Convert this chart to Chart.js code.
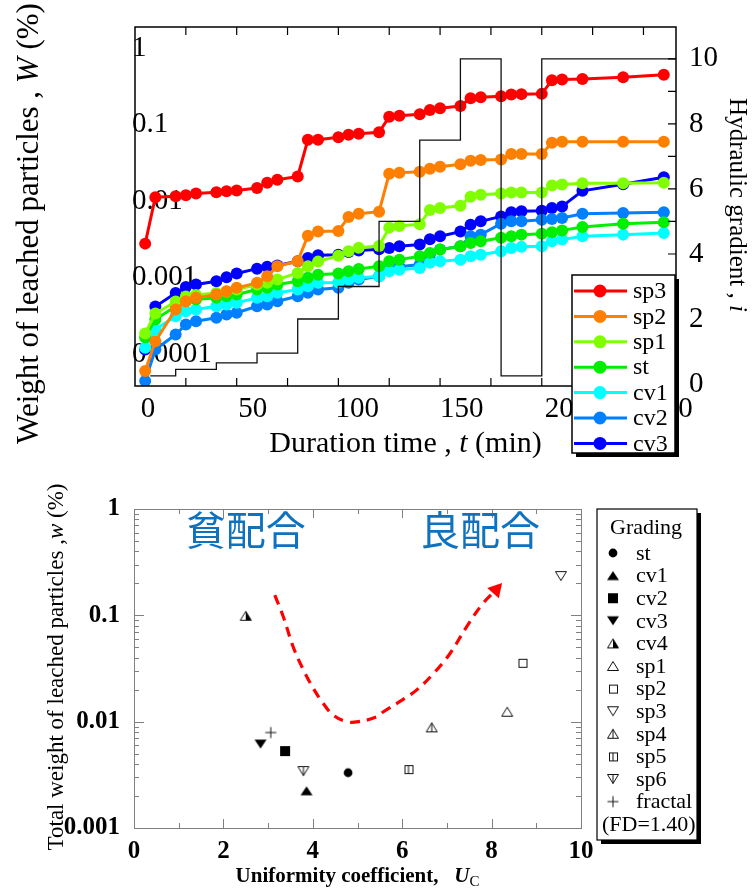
<!DOCTYPE html>
<html>
<head>
<meta charset="utf-8">
<title>leached particles</title>
<script src="https://cdn.jsdelivr.net/npm/chart.js@4.4.1/dist/chart.umd.min.js"></script>
<style>
    body { margin: 0; background: #fff; }
    .fig { position: relative; width: 754px; height: 889px; overflow: hidden; }
    #chart_time { position: absolute; left: 0; top: 0; }
    #chart_uc { position: absolute; left: 0; top: 462px; }
</style>
</head>
<body>
<div class="fig">
    <canvas id="chart_time" width="754" height="462"></canvas>
    <canvas id="chart_uc" width="754" height="427"></canvas>
</div>
<script>
// ---------- top chart : W vs duration time ----------
var time_min = [5, 10, 20, 25, 30, 40, 45, 50, 60, 65, 70, 80, 85, 90, 100, 105, 110, 120, 125, 130,
    140, 145, 150, 160, 165, 170, 180, 185, 190, 200, 205, 210, 220, 240, 260];

var sp3 = [0.0028, 0.0113, 0.0116, 0.0120, 0.0126, 0.0131, 0.0135, 0.0138, 0.0149, 0.0175, 0.0191, 0.0211,
    0.0635, 0.0635, 0.0685, 0.0738, 0.0761, 0.0796, 0.127, 0.131, 0.137, 0.156, 0.164, 0.176, 0.222, 0.229,
    0.235, 0.248, 0.251, 0.253, 0.382, 0.391, 0.397, 0.417, 0.451];
var sp2 = [0.0000606, 0.000149, 0.000386, 0.000495, 0.000548, 0.000606, 0.000669, 0.000741, 0.000861, 0.00105,
    0.00142, 0.00165, 0.00356, 0.00402, 0.00408, 0.00624, 0.00689, 0.00732, 0.0229, 0.0236, 0.0243, 0.0266,
    0.0283, 0.0305, 0.0338, 0.0346, 0.0352, 0.0415, 0.0415, 0.0415, 0.0581, 0.0598, 0.0598, 0.0598, 0.0598];
var sp1 = [0.000188, 0.000342, 0.000491, 0.000571, 0.000597, 0.000633, 0.000663, 0.000704, 0.000818, 0.000861,
    0.00095, 0.00116, 0.00142, 0.00163, 0.00195, 0.00222, 0.00248, 0.0026, 0.00453, 0.00476, 0.00503, 0.0077,
    0.00818, 0.00876, 0.0115, 0.0122, 0.0126, 0.013, 0.013, 0.013, 0.0161, 0.0166, 0.0172, 0.0172, 0.0175];
var st = [0.000167, 0.000286, 0.000426, 0.000495, 0.000521, 0.000548, 0.000576, 0.000606, 0.000704, 0.000741,
    0.000818, 0.000903, 0.001, 0.0011, 0.00114, 0.00122, 0.00131, 0.00142, 0.00165, 0.00173, 0.00191, 0.00212,
    0.00234, 0.00258, 0.00286, 0.003, 0.00335, 0.00349, 0.00367, 0.00378, 0.00393, 0.00417, 0.00462, 0.0051, 0.00531];
var cv1 = [0.000122, 0.000212, 0.000316, 0.000367, 0.000386, 0.000426, 0.000449, 0.000472, 0.000548, 0.000576,
    0.000637, 0.000704, 0.000777, 0.000861, 0.000869, 0.00095, 0.001, 0.00105, 0.00122, 0.00128, 0.00135, 0.00157,
    0.00165, 0.00173, 0.00191, 0.00201, 0.00222, 0.00246, 0.00254, 0.00258, 0.003, 0.00316, 0.00349, 0.00367, 0.00386];
var cv2 = [0.0000449, 0.000116, 0.000182, 0.000246, 0.000272, 0.000301, 0.000332, 0.00035, 0.000426, 0.000449,
    0.000495, 0.000576, 0.000637, 0.000704, 0.000741, 0.000861, 0.00095, 0.00105, 0.00128, 0.0014, 0.00149, 0.00201,
    0.00234, 0.00258, 0.00349, 0.00367, 0.0051, 0.00547, 0.00547, 0.00575, 0.00588, 0.00606, 0.00689, 0.00704, 0.00717];
var cv3 = [0.000116, 0.000422, 0.000633, 0.000759, 0.000818, 0.000903, 0.00102, 0.00114, 0.00132, 0.0014,
    0.00145, 0.00165, 0.00182, 0.00198, 0.00201, 0.00217, 0.00227, 0.00237, 0.00246, 0.00258, 0.00272, 0.00319,
    0.00349, 0.00402, 0.00495, 0.00547, 0.00635, 0.00721, 0.00743, 0.00754, 0.00818, 0.00858, 0.0137, 0.0167, 0.0206];

var series_names = ['sp3', 'sp2', 'sp1', 'st', 'cv1', 'cv2', 'cv3'];
var series_values = [sp3, sp2, sp1, st, cv1, cv2, cv3];
var series_colors = ['#ff0000', '#ff8000', '#80ff00', '#00ee00', '#00ffff', '#0080ff', '#0000ff'];

// hydraulic gradient steps
var step_time = [7.5, 20, 40, 60, 80, 100, 120, 140, 160, 180, 200, 266];
var step_gradient = [0.25, 0.45, 0.65, 0.95, 2, 3, 5, 7.5, 10, 0.25, 10, 10];

var time_tick_labels = [0, 50, 100, 150, 200, 250];
var w_ticks = [0.0001, 0.001, 0.01, 0.1, 1];
var gradient_ticks = [0, 2, 4, 6, 8, 10];

// ---------- bottom chart : total W vs Uc ----------
var grading = ['st', 'cv1', 'cv2', 'cv3', 'cv4', 'sp1', 'sp2', 'sp3', 'sp4', 'sp5', 'sp6', 'fractal'];
var uc = [4.79, 3.86, 3.38, 2.83, 2.50, 8.35, 8.69, 9.55, 6.66, 6.14, 3.79, 3.06];
var total_w = [0.00331, 0.00224, 0.00529, 0.00615, 0.099, 0.0124, 0.0358, 0.234, 0.00884, 0.00358, 0.00343, 0.0079];

var trend_uc = [3.15, 3.34, 3.56, 3.79, 4.01, 4.23, 4.46, 4.76, 5.02, 5.43, 5.58, 5.95, 6.32, 6.70, 7.07, 7.44, 7.81, 8.10];
var trend_w = [0.155, 0.097, 0.0507, 0.0306, 0.0206, 0.0149, 0.0115, 0.0100, 0.0100, 0.0111, 0.0124, 0.0155,
    0.0198, 0.0284, 0.0438, 0.078, 0.130, 0.174];

var notes = ['貧配合', '良配合'];
var note_uc = [2.5, 7.74];
var note_w = [0.634, 0.634];

var uc_ticks = [0, 2, 4, 6, 8, 10];
var total_w_ticks = [0.001, 0.01, 0.1, 1];

var SERIF = 'Liberation Serif';

function fixTicks(list) {
    return function (scale) {
        scale.ticks = list.map(function (v) { return { value: v }; });
    };
}

// text made of pieces with different fonts, centred at x,y (baseline)
function drawRich(ctx, parts, x, y, angle) {
    ctx.save();
    ctx.translate(x, y);
    ctx.rotate(angle);
    ctx.textAlign = 'left';
    ctx.textBaseline = 'alphabetic';
    ctx.fillStyle = '#000';
    var total = 0;
    parts.forEach(function (p) { ctx.font = p[1]; total += ctx.measureText(p[0]).width; });
    var cx = -total / 2;
    parts.forEach(function (p) {
        ctx.font = p[1];
        ctx.fillText(p[0], cx, p[2] || 0);
        cx += ctx.measureText(p[0]).width;
    });
    ctx.restore();
}

// ===== top chart =====
var time_datasets = [{
    type: 'line',
    label: 'i',
    data: step_time.map(function (t, k) { return { x: t, y: step_gradient[k] }; }),
    xAxisID: 'x',
    yAxisID: 'y2',
    stepped: true,
    borderColor: '#111',
    borderWidth: 1.3,
    pointRadius: 0,
    fill: false
}];
for (let s = 0; s < series_names.length; s++) {
    time_datasets.push({
        type: 'line',
        label: series_names[s],
        data: time_min.map(function (t, k) { return { x: t, y: series_values[s][k] }; }),
        xAxisID: 'x',
        yAxisID: 'y',
        borderColor: series_colors[s],
        backgroundColor: series_colors[s],
        borderWidth: 3,
        pointRadius: 6,
        pointBorderWidth: 0,
        pointBackgroundColor: series_colors[s],
        tension: 0,
        fill: false
    });
}

var timeDeco = {
    id: 'time_deco',
    afterDraw: function (chart) {
        var ctx = chart.ctx, a = chart.chartArea;
        var sx = chart.scales.x, sy2 = chart.scales.y2;
        ctx.save();
        ctx.strokeStyle = '#000';
        ctx.lineWidth = 1.5;
        ctx.strokeRect(a.left, a.top, a.right - a.left, a.bottom - a.top);

        //  inward tick marks
        ctx.lineWidth = 1.2;
        ctx.beginPath();
        for (var t = 25; t < 266; t += 25) {
            var px = sx.getPixelForValue(t);
            ctx.moveTo(px, a.top); ctx.lineTo(px, a.top + 8);
            ctx.moveTo(px, a.bottom); ctx.lineTo(px, a.bottom - 8);
        }
        for (var g = 0; g <= 10; g++) {
            var py = sy2.getPixelForValue(g);
            ctx.moveTo(a.right, py); ctx.lineTo(a.right - 8, py);
        }
        ctx.stroke();

        //  axis titles
        var f30 = '30px "' + SERIF + '"', i30 = 'italic 30px "' + SERIF + '"';
        var f31 = '31px "' + SERIF + '"', i31 = 'italic 31px "' + SERIF + '"';
        var f25 = '25px "' + SERIF + '"', i25 = 'italic 25px "' + SERIF + '"';
        drawRich(ctx, [['Duration time , ', f30], ['t', i30], [' (min)', f30]], (a.left + a.right) / 2, 452, 0);
        drawRich(ctx, [['Weight of leached particles , ', f31], ['W', i31], [' (%)', f31]], 38, 223.5, -Math.PI / 2);
        drawRich(ctx, [['Hydraulic gradient , ', f25], ['i', i25]], 730, 205, Math.PI / 2);

        //  legend
        var lx = 572, ly = 275, lw = 103, lh = 178;
        ctx.fillStyle = '#000';
        ctx.fillRect(lx + 4, ly + 4, lw, lh);
        ctx.fillStyle = '#fff';
        ctx.fillRect(lx, ly, lw, lh);
        ctx.save();
        ctx.beginPath();
        ctx.rect(lx, ly, lw, lh);
        ctx.clip();
        ctx.font = '24px "' + SERIF + '"';
        ctx.textAlign = 'left';
        ctx.textBaseline = 'middle';
        for (var k = 0; k < series_names.length; k++) {
            var ry = 291 + 25.4 * k;
            ctx.strokeStyle = series_colors[k];
            ctx.lineWidth = 3;
            ctx.beginPath();
            ctx.moveTo(574, ry); ctx.lineTo(627, ry);
            ctx.stroke();
            ctx.fillStyle = series_colors[k];
            ctx.beginPath();
            ctx.arc(600, ry, 6.5, 0, Math.PI * 2);
            ctx.fill();
            ctx.fillStyle = '#000';
            ctx.fillText(series_names[k], 633, ry + 1);
        }
        ctx.restore();
        ctx.strokeStyle = '#000';
        ctx.lineWidth = 1.5;
        ctx.strokeRect(lx, ly, lw, lh);
        ctx.restore();
    }
};

var tickFont = { family: SERIF, size: 29, lineHeight: 1 };

new Chart(document.getElementById('chart_time').getContext('2d'), {
    data: { datasets: time_datasets },
    options: {
        responsive: false,
        animation: false,
        devicePixelRatio: 1,
        events: [],
        layout: { padding: { top: 27, left: 0, right: 0, bottom: 0 } },
        plugins: { legend: { display: false }, tooltip: { enabled: false } },
        scales: {
            x: { type: 'linear', display: false, min: 0, max: 266 },
            xl: {
                type: 'linear', position: 'bottom', min: -6.26, max: 252.4,
                grid: { display: false }, border: { display: false },
                afterBuildTicks: fixTicks(time_tick_labels),
                afterFit: function (scale) { scale.height = 76; },
                ticks: { font: tickFont, color: '#000', padding: 1, maxRotation: 0, autoSkip: false }
            },
            y: {
                type: 'logarithmic', position: 'left', min: 3.87e-5, max: 1.89,
                grid: { display: false }, border: { display: false },
                afterBuildTicks: fixTicks(w_ticks),
                afterFit: function (scale) { scale.width = 135; },
                ticks: {
                    font: tickFont, color: '#000', mirror: true, padding: -3, autoSkip: false,
                    callback: function (v) { return String(v); }
                }
            },
            y2: {
                type: 'linear', position: 'right', min: -0.06, max: 10.98,
                grid: { display: false }, border: { display: false },
                afterBuildTicks: fixTicks(gradient_ticks),
                afterFit: function (scale) { scale.width = 78; },
                ticks: { font: tickFont, color: '#000', padding: 5, autoSkip: false }
            }
        }
    },
    plugins: [timeDeco]
});

// ===== bottom chart =====
function makeMarker(kind) {
    var c = document.createElement('canvas');
    c.width = 16; c.height = 16;
    var g = c.getContext('2d');
    g.strokeStyle = '#111'; g.fillStyle = '#000'; g.lineWidth = 1;
    var up = [[8, 3.5], [14, 12.5], [2, 12.5]];
    var dn = [[8, 12.5], [14, 3.5], [2, 3.5]];
    var upo = [[8, 3.5], [13.5, 12.5], [2.5, 12.5]];
    var dno = [[8, 12.5], [13.5, 3.5], [2.5, 3.5]];
    function tri(p) {
        g.beginPath();
        g.moveTo(p[0][0], p[0][1]); g.lineTo(p[1][0], p[1][1]); g.lineTo(p[2][0], p[2][1]);
        g.closePath();
    }
    function vline(y1, y2) { g.beginPath(); g.moveTo(8, y1); g.lineTo(8, y2); g.stroke(); }
    switch (kind) {
        case 'st': g.beginPath(); g.arc(8, 8, 4.4, 0, Math.PI * 2); g.fill(); break;
        case 'cv1': tri(up); g.fill(); break;
        case 'cv2': g.fillRect(3, 3, 10, 10); break;
        case 'cv3': tri(dn); g.fill(); break;
        case 'cv4':
            tri(upo); g.stroke();
            g.beginPath(); g.moveTo(8, 3.5); g.lineTo(13.5, 12.5); g.lineTo(8, 12.5); g.closePath(); g.fill();
            break;
        case 'sp1': tri(upo); g.stroke(); break;
        case 'sp2': g.strokeRect(4.5, 4.5, 8, 8); break;
        case 'sp3': tri(dno); g.stroke(); break;
        case 'sp4': tri(upo); g.stroke(); vline(3.5, 12.5); break;
        case 'sp5': g.strokeRect(4.5, 4.5, 8, 8); vline(4.5, 12.5); break;
        case 'sp6': tri(dno); g.stroke(); vline(3.5, 12.5); break;
        case 'fractal':
            g.beginPath(); g.moveTo(8, 2.5); g.lineTo(8, 13.5); g.moveTo(2.5, 8); g.lineTo(13.5, 8); g.stroke();
            break;
    }
    return c;
}
var markers = grading.map(makeMarker);

var trend_radius = trend_uc.map(function (u, k) { return k === trend_uc.length - 1 ? 9 : 0; });
var trend_rotation = trend_uc.map(function (u, k) { return k === trend_uc.length - 1 ? 42 : 0; });

var ucDeco = {
    id: 'uc_deco',
    afterDraw: function (chart) {
        var ctx = chart.ctx, a = chart.chartArea;
        var sx = chart.scales.x, sy = chart.scales.y;
        ctx.save();
        ctx.strokeStyle = '#808080';
        ctx.lineWidth = 1;
        ctx.strokeRect(a.left + 0.5, a.top + 0.5, a.right - a.left, a.bottom - a.top);
        ctx.beginPath();
        for (var u = 1; u < 10; u++) {
            var px = Math.round(sx.getPixelForValue(u)) + 0.5;
            var len = u % 2 === 0 ? 9 : 5;
            ctx.moveTo(px, a.bottom); ctx.lineTo(px, a.bottom - len);
            ctx.moveTo(px, a.top); ctx.lineTo(px, a.top + len);
        }
        for (var d = -3; d < 0; d++) {
            for (var m = 1; m < 10; m++) {
                if (d === -3 && m === 1) continue;
                var py = Math.round(sy.getPixelForValue(m * Math.pow(10, d))) + 0.5;
                var l2 = m === 1 ? 10 : 5;
                ctx.moveTo(a.left, py); ctx.lineTo(a.left + l2, py);
                ctx.moveTo(a.right, py); ctx.lineTo(a.right - l2, py);
            }
        }
        ctx.stroke();

        //  貧/良配合 notes
        ctx.fillStyle = '#0f72bf';
        ctx.font = '40px "Noto Sans CJK JP"';
        ctx.textAlign = 'center';
        ctx.textBaseline = 'middle';
        for (var n = 0; n < notes.length; n++) {
            ctx.fillText(notes[n], sx.getPixelForValue(note_uc[n]), sy.getPixelForValue(note_w[n]));
        }

        //  axis titles
        var b21 = 'bold 21px "' + SERIF + '"', bi21 = 'bold italic 21px "' + SERIF + '"', s15 = '15px "' + SERIF + '"';
        drawRich(ctx, [['Uniformity coefficient,   ', b21], ['U', bi21], ['C', s15, 4]], (a.left + a.right) / 2, 420, 0);
        var f23 = '23px "' + SERIF + '"', i23 = 'italic 23px "' + SERIF + '"';
        drawRich(ctx, [['Total weight of leached particles ,', f23], ['w', i23], [' (%)', f23]], 63, 205, -Math.PI / 2);

        //  legend
        var lx = 597, ly = 47, lw = 100, lh = 331;
        ctx.fillStyle = '#000';
        ctx.fillRect(lx + 4, ly + 4, lw, lh);
        ctx.fillStyle = '#fff';
        ctx.fillRect(lx, ly, lw, lh);
        ctx.strokeStyle = '#000';
        ctx.lineWidth = 1.2;
        ctx.strokeRect(lx, ly, lw, lh);
        ctx.fillStyle = '#000';
        ctx.font = '22px "' + SERIF + '"';
        ctx.textAlign = 'left';
        ctx.textBaseline = 'middle';
        ctx.fillText('Grading', 610, 66);
        for (var k = 0; k < grading.length; k++) {
            var ry = 91 + 22.6 * k;
            ctx.drawImage(markers[k], 613 - 8, ry - 8);
            ctx.fillText(grading[k], 636, ry + 1);
        }
        ctx.fillText('(FD=1.40)', 602, 91 + 22.6 * grading.length + 1);
        ctx.restore();
    }
};

var boldTick = { family: SERIF, size: 25, weight: 'bold', lineHeight: 1 };

new Chart(document.getElementById('chart_uc').getContext('2d'), {
    data: {
        datasets: [{
            type: 'scatter',
            label: 'grading',
            data: uc.map(function (u, k) { return { x: u, y: total_w[k] }; }),
            pointStyle: markers,
            pointRadius: 6
        }, {
            type: 'line',
            label: 'trend',
            data: trend_uc.map(function (u, k) { return { x: u, y: trend_w[k] }; }),
            borderColor: '#ff0000',
            borderWidth: 3.2,
            borderDash: [10, 7],
            tension: 0.4,
            pointStyle: 'triangle',
            pointRadius: trend_radius,
            pointRotation: trend_rotation,
            pointBackgroundColor: '#ff0000',
            pointBorderWidth: 0,
            fill: false
        }]
    },
    options: {
        responsive: false,
        animation: false,
        devicePixelRatio: 1,
        events: [],
        layout: { padding: { top: 47, left: 0, right: 173, bottom: 0 } },
        plugins: { legend: { display: false }, tooltip: { enabled: false } },
        scales: {
            x: {
                type: 'linear', position: 'bottom', min: 0, max: 10,
                grid: { display: false }, border: { display: false },
                afterBuildTicks: fixTicks(uc_ticks),
                afterFit: function (scale) { scale.height = 61; },
                ticks: { font: boldTick, color: '#000', padding: 3, maxRotation: 0, autoSkip: false }
            },
            y: {
                type: 'logarithmic', position: 'left', min: 0.001, max: 1,
                grid: { display: false }, border: { display: false },
                afterBuildTicks: fixTicks(total_w_ticks),
                afterFit: function (scale) { scale.width = 134; },
                ticks: {
                    font: boldTick, color: '#000', padding: 6, autoSkip: false,
                    callback: function (v) { return String(v); }
                }
            }
        }
    },
    plugins: [ucDeco]
});
</script>
</body>
</html>
